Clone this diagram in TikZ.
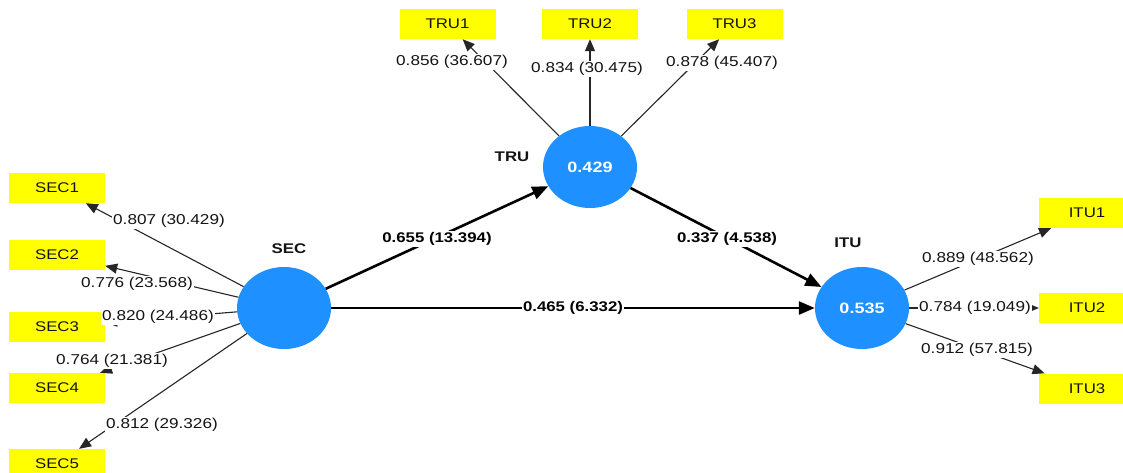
\documentclass[tikz,border=0pt]{standalone}
\usepackage{fontspec}
\setmainfont{Liberation Sans}[FakeStretch=1.2]
\usetikzlibrary{arrows.meta,shapes.geometric}
\definecolor{lvblue}{RGB}{30,144,255}
\definecolor{mvyellow}{RGB}{255,255,0}
\definecolor{txt}{RGB}{20,20,20}
\tikzset{
  lv/.style={ellipse,fill=lvblue,draw=none,minimum width=94pt,minimum height=82pt,inner sep=0pt,
    text=white,font=\fontsize{15}{17}\selectfont\bfseries},
  mv/.style={rectangle,fill=mvyellow,draw=none,minimum width=96pt,minimum height=30pt,inner sep=0pt,
    text=txt,font=\fontsize{14}{16}\selectfont},
  lvname/.style={text=txt,font=\fontsize{14}{16}\selectfont\bfseries},
  load/.style={draw=black!85,line width=1.1pt,-{Triangle[length=12pt,width=10pt]}},
  path/.style={draw=black,line width=2.6pt,-{Triangle[length=16pt,width=13pt]}},
  lbl/.style={fill=white,inner sep=1.5pt,text=txt,font=\fontsize{14.3}{16}\selectfont},
  blbl/.style={fill=white,inner sep=1.5pt,text=black,font=\fontsize{14}{16}\selectfont\bfseries},
}
\begin{document}
\begin{tikzpicture}[x=1pt,y=-1pt]
\useasboundingbox (0,0) rectangle (1123,472);
\fill[white] (0,0) rectangle (1123,472);
% latent variables
\node[lv] (sec) at (284,308) {};
\node[lv] (tru) at (590,167) {0.429};
\node[lv] (itu) at (862,308) {0.535};
\node[lvname] (secn) at (289,249) {SEC};
\node[lvname] (trun) at (512,157) {TRU};
\node[lvname] (itun) at (848,243) {ITU};
% indicators
\node[mv] (sec1) at (57,188) {SEC1};
\node[mv] (sec2) at (57,254.5) {SEC2};
\node[mv] (sec3) at (57,326.5) {SEC3};
\node[mv] (sec4) at (57,388) {SEC4};
\node[mv] (sec5) at (57,464) {SEC5};
\node[mv] (tru1) at (447.5,24) {TRU1};
\node[mv] (tru2) at (590,24) {TRU2};
\node[mv] (tru3) at (734.5,24) {TRU3};
\node[mv] (itu1) at (1087,213) {ITU1};
\node[mv] (itu2) at (1087,308) {ITU2};
\node[mv] (itu3) at (1087,388.5) {ITU3};
% loadings
\draw[load] (sec) -- (sec1);
\draw[load] (sec) -- (sec2);
\draw[load] (sec) -- (sec3);
\draw[load] (sec) -- (sec4);
\draw[load] (sec) -- (sec5);
\draw[load] (tru) -- (tru1);
\draw[load] (tru) -- (tru2);
\draw[load] (tru) -- (tru3);
\draw[load] (itu) -- (itu1);
\draw[load] (itu) -- (itu2);
\draw[load] (itu) -- (itu3);
% structural paths
\draw[path] (sec) -- (tru);
\draw[path] (tru) -- (itu);
\draw[path] (sec) -- (itu);
% loading labels
\node[lbl] (l1) at (169,221) {0.807 (30.429)};
\node[lbl] (l2) at (137,284) {0.776 (23.568)};
\node[lbl] (l3) at (158,317) {0.820 (24.486)};
\node[lbl] (l4) at (112,361) {0.764 (21.381)};
\node[lbl] (l5) at (162,425) {0.812 (29.326)};
\node[lbl] (l6) at (452,62) {0.856 (36.607)};
\node[lbl] (l7) at (587,69) {0.834 (30.475)};
\node[lbl] (l8) at (722,63) {0.878 (45.407)};
\node[lbl] (l9) at (978,259) {0.889 (48.562)};
\node[lbl] (l10) at (975,308) {0.784 (19.049)};
\node[lbl] (l11) at (977,350) {0.912 (57.815)};
% path labels
\node[blbl] (p1) at (437,239) {0.655 (13.394)};
\node[blbl] (p2) at (727,239) {0.337 (4.538)};
\node[blbl] (p3) at (573,308) {0.465 (6.332)};
\end{tikzpicture}
\end{document}
